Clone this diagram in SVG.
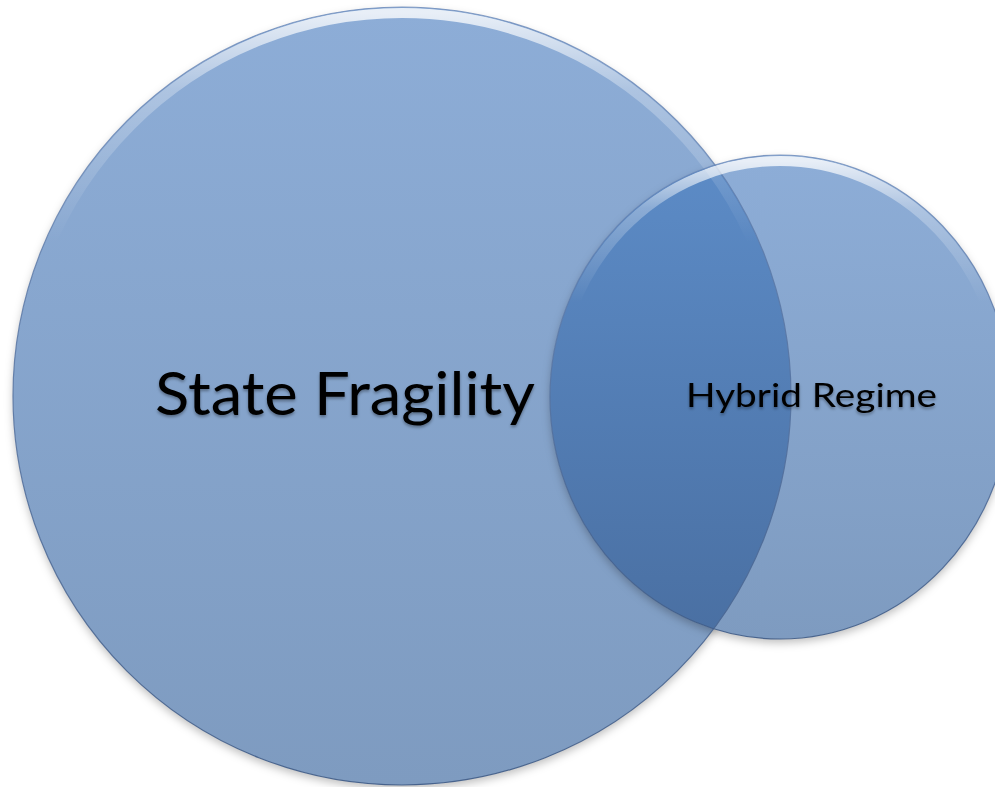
<svg xmlns="http://www.w3.org/2000/svg" width="995" height="787" viewBox="0 0 995 787">
  <defs>
    <linearGradient id="fill" x1="0" y1="0" x2="0" y2="1">
      <stop offset="0" stop-color="rgb(141,173,215)"/>
      <stop offset="1" stop-color="rgb(126,155,192)"/>
    </linearGradient>
    <linearGradient id="ovl" gradientUnits="userSpaceOnUse" x1="0" y1="165" x2="0" y2="630">
      <stop offset="0" stop-color="rgb(92,139,198)"/>
      <stop offset="1" stop-color="rgb(74,112,163)"/>
    </linearGradient>
    <linearGradient id="hl" x1="0" y1="0" x2="0" y2="1">
      <stop offset="0" stop-color="#ffffff" stop-opacity="0.8"/>
      <stop offset="0.1" stop-color="#ffffff" stop-opacity="0.3"/>
      <stop offset="0.3" stop-color="#ffffff" stop-opacity="0"/>
    </linearGradient>
    <linearGradient id="edge" x1="0" y1="0" x2="0" y2="1">
      <stop offset="0" stop-color="#6a88b8" stop-opacity="0.8"/>
      <stop offset="1" stop-color="#3e5a85" stop-opacity="0.9"/>
    </linearGradient>
    <clipPath id="smallClip">
      <ellipse cx="780" cy="397" rx="230" ry="242"/>
    </clipPath>
    <filter id="shadow" x="-10%" y="-10%" width="120%" height="125%">
      <feDropShadow dx="0" dy="4" stdDeviation="4" flood-color="#000" flood-opacity="0.25"/>
    </filter>
    <filter id="tshadow" x="-5%" y="-20%" width="110%" height="150%">
      <feDropShadow dx="0" dy="2" stdDeviation="1.5" flood-color="#000" flood-opacity="0.35"/>
    </filter>
    <style>
      .disc { fill: url(#fill); }
      .rim { fill: none; stroke: url(#edge); stroke-width: 1.2; }
      .bevel { fill: none; stroke: url(#hl); stroke-width: 10; }
      .label { font-family: Lato, "Open Sans", "Liberation Sans", sans-serif; fill: #000; filter: url(#tshadow); }
    </style>
  </defs>
  <rect width="995" height="787" fill="#ffffff"/>
  <g id="state-fragility">
    <circle class="disc" cx="402" cy="396" r="389" filter="url(#shadow)"/>
  </g>
  <g id="hybrid-regime">
    <ellipse class="disc" cx="780" cy="397" rx="230" ry="242" filter="url(#shadow)"/>
  </g>
  <g id="overlap">
    <circle cx="402" cy="396" r="389" fill="url(#ovl)" clip-path="url(#smallClip)"/>
  </g>
  <g id="rims">
    <circle class="bevel" cx="402" cy="396" r="383"/>
    <circle class="rim" cx="402" cy="396" r="389"/>
    <ellipse class="bevel" cx="780" cy="397" rx="224" ry="236"/>
    <ellipse class="rim" cx="780" cy="397" rx="230" ry="242"/>
  </g>
  <g id="labels">
    <text class="label" x="155" y="415" font-size="60" textLength="380" lengthAdjust="spacingAndGlyphs">State Fragility</text>
    <text class="label" x="686" y="407" font-size="32" textLength="251" lengthAdjust="spacingAndGlyphs">Hybrid Regime</text>
  </g>
  <g id="connectors"/>
</svg>
